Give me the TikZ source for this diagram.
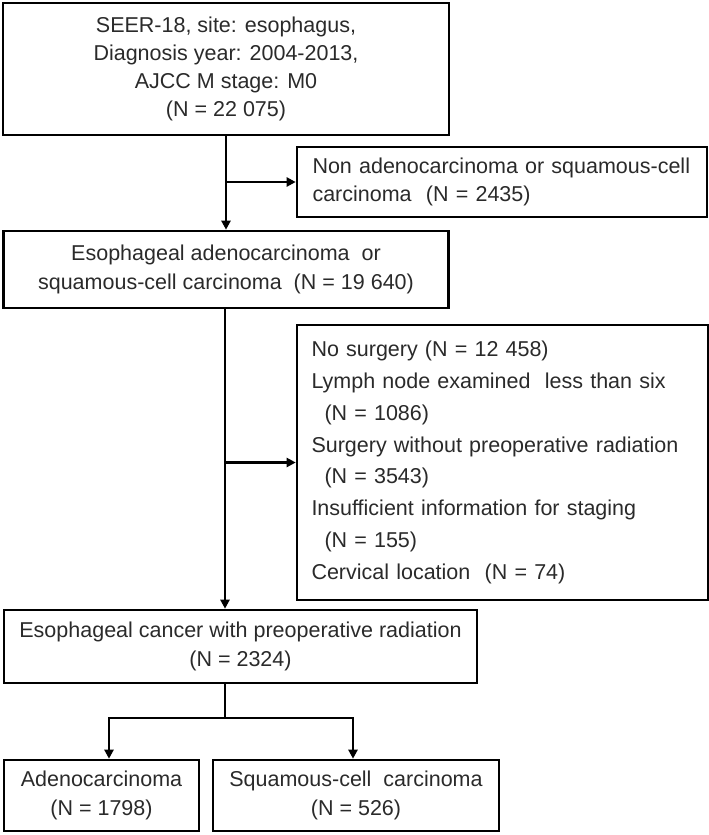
\documentclass[tikz,border=0pt]{standalone}
\usepackage{fontspec}
\setmainfont{Liberation Sans}
\usetikzlibrary{arrows.meta,calc}
\definecolor{txt}{HTML}{2A2A2A}
\begin{document}
\begin{tikzpicture}[x=1pt,y=-1pt,
  box/.style={draw=black,line width=2.6pt,rectangle,inner sep=0pt,text=txt,
    font=\fontsize{21.5}{29}\selectfont},
  arr/.style={line width=2.6pt,-{Triangle[length=9pt,width=9pt]}},
  ln/.style={line width=2.6pt}]
\useasboundingbox (0,0) rectangle (709,835);
\node[box,minimum width=446pt,minimum height=132pt,align=center,
  font=\fontsize{21.5}{28}\selectfont] (b1) at (226,69)
  {SEER-18, site: esophagus,\\Diagnosis year: 2004-2013,\\AJCC M stage: M0\\(N = 22 075)};
\node[box,minimum width=410pt,minimum height=70pt,text width=379pt,align=left,
  font=\fontsize{21.5}{28}\selectfont] (b2) at (502,182)
  {Non adenocarcinoma or squamous-cell\\carcinoma\ \ (N = 2435)};
\node[box,minimum width=445pt,minimum height=77pt,align=center] (b3) at (226,269.5)
  {Esophageal adenocarcinoma\ \ or\\squamous-cell carcinoma\ \ (N = 19 640)};
\node[box,minimum width=411pt,minimum height=275pt,text width=382pt,align=left,
  font=\fontsize{21.5}{31.8}\selectfont] (b4) at (502.5,462.5)
  {No surgery (N = 12 458)\\Lymph node examined\ \ less than six\\\hspace*{13pt}(N = 1086)\\Surgery without preoperative radiation\\\hspace*{13pt}(N = 3543)\\Insufficient information for staging\\\hspace*{13pt}(N = 155)\\Cervical location\ \ (N = 74)};
\node[box,minimum width=473pt,minimum height=73pt,align=center] (b5) at (240.5,646.5)
  {Esophageal cancer with preoperative radiation\\(N = 2324)};
\node[box,minimum width=195pt,minimum height=71pt,align=center] (b6) at (101.5,795.5)
  {Adenocarcinoma\\(N = 1798)};
\node[box,minimum width=286pt,minimum height=71pt,align=center] (b7) at (356,795.5)
  {Squamous-cell\ \ carcinoma\\(N = 526)};
\coordinate (j) at (225,718);
\draw[arr] (b1.south) -- (b3.north);
\draw[arr] (b1.south |- b2.west) -- (b2.west);
\draw[arr] (b3.south -| j) -- (j |- b5.north);
\draw[arr] (j |- b4.west) -- (b4.west);
\draw[ln] (b5.south -| j) -- (j);
\draw[arr] (j) -| ([xshift=7.5pt]b6.north);
\draw[arr] (j) -| ([xshift=-3pt]b7.north);
\end{tikzpicture}
\end{document}
